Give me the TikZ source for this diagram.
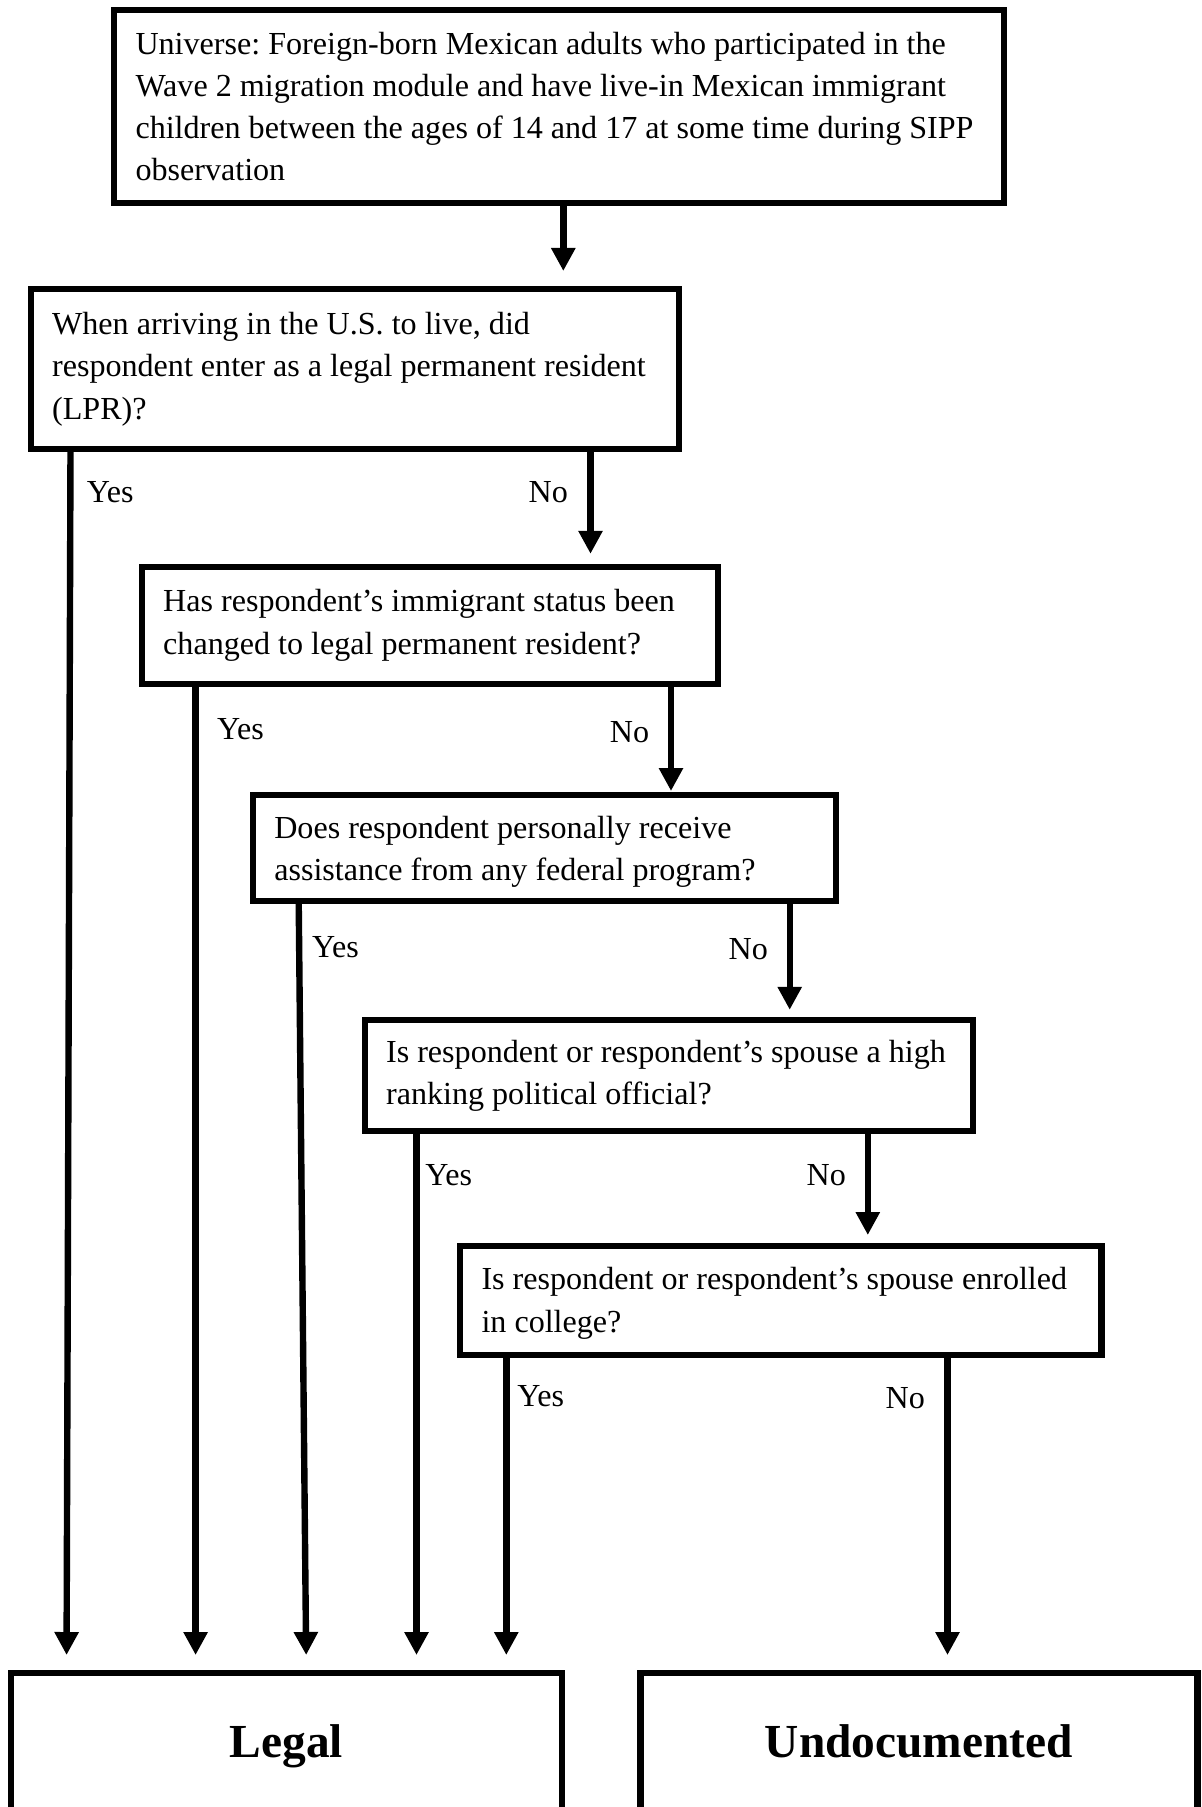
\documentclass[tikz,border=0pt]{standalone}
\usepackage{fontspec}
\setmainfont{Liberation Serif}
\usetikzlibrary{arrows.meta}
\newcommand{\qfont}{\fontsize{16.05pt}{21.15pt}\selectfont}
\newcommand{\natsp}{\frenchspacing\spaceskip=0pt\xspaceskip=0pt\relax}
\begin{document}
\begin{tikzpicture}[x=0.5pt,y=-0.5pt,
  qbox/.style={draw, line width=3.1pt, outer sep=0pt, inner xsep=10.75pt, inner ysep=0pt,
    anchor=north west, align=left, font=\qfont},
  endbox/.style={draw, line width=3.1pt, outer sep=0pt, inner sep=0pt, anchor=north west,
    text height=15.7pt, text depth=0pt,
    font=\fontsize{23.7pt}{28pt}\selectfont\bfseries},
  lbl/.style={inner sep=0pt, font=\qfont},
  arr/.style={line width=3.2pt, -{Triangle[width=11.5pt,length=11.5pt]}}
]
\useasboundingbox (0,0) rectangle (1201,1807);

% boxes
\node[qbox, minimum width=445pt, minimum height=96.5pt, text width=423.5pt] (b1) at (114,10)
  {\natsp\mbox{Universe: Foreign-born Mexican adults who participated in the}\\
   \mbox{Wave 2 migration module and have live-in Mexican immigrant}\\
   \mbox{children between the ages of 14 and 17 at some time during SIPP}\\
   \mbox{observation}};
\node[qbox, minimum width=324pt, minimum height=80pt, text width=302.5pt] (b2) at (30.6,289)
  {\natsp\mbox{When arriving in the U.S. to live, did}\\
   \mbox{respondent enter as a legal permanent resident}\\
   \mbox{(LPR)?}};
\node[qbox, minimum width=288pt, minimum height=58.65pt, text width=266.5pt] (b3) at (141.7,566.7)
  {\natsp\mbox{Has respondent’s immigrant status been}\\
   \mbox{changed to legal permanent resident?}};
\node[qbox, minimum width=291.5pt, minimum height=53pt, text width=270pt] (b4) at (252.8,795.3)
  {\natsp\mbox{\rule{0pt}{14.5pt}Does respondent personally receive}\\
   \mbox{assistance from any federal program?}};
\node[qbox, minimum width=304pt, minimum height=55.5pt, text width=282.5pt] (b5) at (364.6,1020)
  {\natsp\mbox{Is respondent or respondent’s spouse a high}\\
   \mbox{ranking political official?}};
\node[qbox, minimum width=320.7pt, minimum height=54.5pt, text width=299.2pt] (b6) at (460,1246)
  {\natsp\mbox{\rule{0pt}{14pt}Is respondent or respondent’s spouse enrolled}\\
   \mbox{in college?}};
\node[endbox, minimum width=275.5pt, minimum height=68.5pt] (legal) at (11,1673) {Legal};
\node[endbox, minimum width=278.5pt, minimum height=68.5pt] (undoc) at (640.5,1673) {Undocumented};

% x positions of connectors
\coordinate (c0) at (563.3,0);
\coordinate (n2) at (590.5,0);
\coordinate (n3) at (671,0);
\coordinate (n4) at (789.7,0);
\coordinate (n5) at (867.8,0);
\coordinate (n6) at (947.5,0);
\coordinate (y2t) at (70.5,0);
\coordinate (y2b) at (66.5,0);
\coordinate (y3) at (195.6,0);
\coordinate (y4t) at (298.7,0);
\coordinate (y4b) at (306.4,0);
\coordinate (y5) at (416.5,0);
\coordinate (y6) at (506.3,0);

% connectors
\draw[arr, shorten >=9pt] (b1.south -| c0) -- (b2.north -| c0);
\draw[arr, shorten >=6.45pt] (b2.south -| n2) -- (b3.north -| n2);
\draw[arr, shorten >=2.15pt] (b3.south -| n3) -- (b4.north -| n3);
\draw[arr, shorten >=5.1pt] (b4.south -| n4) -- (b5.north -| n4);
\draw[arr, shorten >=5.5pt] (b5.south -| n5) -- (b6.north -| n5);
\draw[arr, shorten >=9pt] (b6.south -| n6) -- (undoc.north -| n6);
\draw[arr, shorten >=9pt] (b2.south -| y2t) -- (legal.north -| y2b);
\draw[arr, shorten >=9pt] (b3.south -| y3) -- (legal.north -| y3);
\draw[arr, shorten >=9pt] (b4.south -| y4t) -- (legal.north -| y4b);
\draw[arr, shorten >=9pt] (b5.south -| y5) -- (legal.north -| y5);
\draw[arr, shorten >=9pt] (b6.south -| y6) -- (legal.north -| y6);

% labels
\node[lbl, anchor=base west] (ly2) at (86.5,503) {Yes};
\node[lbl, anchor=base east] (ln2) at (568.3,503) {No};
\node[lbl, anchor=base west] (ly3) at (216.8,739.5) {Yes};
\node[lbl, anchor=base east] (ln3) at (649.5,742.5) {No};
\node[lbl, anchor=base west] (ly4) at (311.7,957) {Yes};
\node[lbl, anchor=base east] (ln4) at (768.2,959) {No};
\node[lbl, anchor=base west] (ly5) at (425,1185) {Yes};
\node[lbl, anchor=base east] (ln5) at (846.3,1185) {No};
\node[lbl, anchor=base west] (ly6) at (517,1406.5) {Yes};
\node[lbl, anchor=base east] (ln6) at (925.2,1408.7) {No};
\end{tikzpicture}
\end{document}
